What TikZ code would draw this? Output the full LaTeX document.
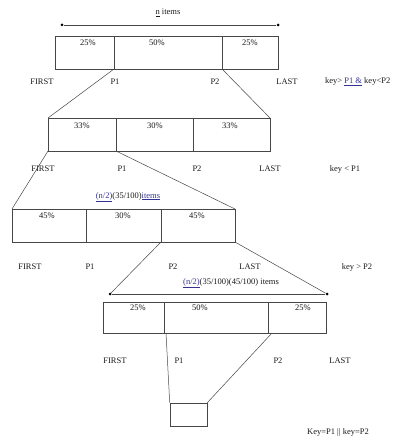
\documentclass[tikz,border=0pt]{standalone}
\usepackage{fontspec}
\setmainfont{Liberation Serif}
\definecolor{lnk}{RGB}{50,50,150}
\definecolor{ln}{RGB}{70,70,70}
\newcommand{\lk}[1]{\textcolor{lnk}{\underline{#1}}}
\begin{document}
\begin{tikzpicture}[x=1pt,y=-1pt,
  txt/.style={inner sep=0pt,font=\fontsize{8.5}{9.5}\selectfont,text=black!90},
  pct/.style={txt,anchor=north},
  bx/.style={draw=ln,line width=0.6pt},
  con/.style={draw=ln,line width=0.5pt},
  dot/.style={circle,fill=black,inner sep=0pt,minimum size=3pt}]
\useasboundingbox (0,0) rectangle (408,446);
% ---------- level 1 ----------
\node[dot] (a1l) at (62,25) {};
\node[dot] (a1r) at (278,25) {};
\draw[con] (a1l) -- (a1r);
\node[txt] (n1) at (168,13) {\underline{n} items};
\draw[bx] (55,36) rectangle (278,69);
\coordinate (b1d1t) at (114,36); \coordinate (b1d1) at (114,69);
\coordinate (b1d2t) at (222,36); \coordinate (b1d2) at (222,69);
\draw[bx] (b1d1t) -- (b1d1) (b1d2t) -- (b1d2);
\node[pct] (p11) at (88,40) {25\%};
\node[pct] (p12) at (157,40) {50\%};
\node[pct] (p13) at (250,40) {25\%};
\node[txt] (f1) at (42,82) {FIRST};
\node[txt] (q11) at (115,82) {P1};
\node[txt] (q12) at (215,82) {P2};
\node[txt] (l1) at (287,82) {LAST};
\node[txt,anchor=west] (k1) at (325,82) {key> \lk{P1 \&} key<P2};
% ---------- level 2 ----------
\draw[bx] (48,118) rectangle (270,151);
\coordinate (b2tl) at (48,118); \coordinate (b2tr) at (270,118);
\coordinate (b2bl) at (48,151);
\coordinate (b2d1t) at (116,118); \coordinate (b2d1) at (116,151);
\coordinate (b2d2t) at (193,118); \coordinate (b2d2) at (193,151);
\draw[bx] (b2d1t) -- (b2d1) (b2d2t) -- (b2d2);
\draw[con] (b1d1) -- (b2tl);
\draw[con] (b1d2) -- (b2tr);
\node[pct] (p21) at (82,123) {33\%};
\node[pct] (p22) at (155,123) {30\%};
\node[pct] (p23) at (230,123) {33\%};
\node[txt] (f2) at (43,169) {FIRST};
\node[txt] (q21) at (122,169) {P1};
\node[txt] (q22) at (197,169) {P2};
\node[txt] (l2) at (270,169) {LAST};
\node[txt] (k2) at (345,169) {key < P1};
% ---------- level 3 ----------
\node[txt] (m3) at (128,197) {\lk{(n/2)}(35/100)\lk{items}};
\draw[bx] (12,209) rectangle (235,242);
\coordinate (b3tl) at (12,209); \coordinate (b3tr) at (235,209);
\coordinate (b3br) at (235,242);
\coordinate (b3d1t) at (86,209); \coordinate (b3d1) at (86,242);
\coordinate (b3d2t) at (161,209); \coordinate (b3d2) at (161,242);
\draw[bx] (b3d1t) -- (b3d1) (b3d2t) -- (b3d2);
\draw[con] (b2bl) -- (b3tl);
\draw[con] (b2d1) -- (b3tr);
\node[pct] (p31) at (47,213) {45\%};
\node[pct] (p32) at (123,213) {30\%};
\node[pct] (p33) at (197,213) {45\%};
\node[txt] (f3) at (30,267) {FIRST};
\node[txt] (q31) at (90,267) {P1};
\node[txt] (q32) at (173,267) {P2};
\node[txt] (l3) at (250,267) {LAST};
\node[txt] (k3) at (357,267) {key > P2};
% ---------- level 4 ----------
\node[txt] (m4) at (231,283) {\lk{(n/2)}(35/100)(45/100) items};
\node[dot] (a4l) at (110,294) {};
\node[dot] (a4r) at (327,294) {};
\draw[con] (a4l) -- (a4r);
\draw[con] (b3d2) -- (a4l);
\draw[con] (b3br) -- (a4r);
\draw[bx] (103,302) rectangle (326,333);
\coordinate (b4d1t) at (164,302); \coordinate (b4d1) at (164,333);
\coordinate (b4d2t) at (268,302); \coordinate (b4d2) at (268,333);
\draw[bx] (b4d1t) -- (b4d1) (b4d2t) -- (b4d2);
\node[pct] (p41) at (138,305) {25\%};
\node[pct] (p42) at (200,305) {50\%};
\node[pct] (p43) at (303,305) {25\%};
\node[txt] (f4) at (115,361) {FIRST};
\node[txt] (q41) at (179,361) {P1};
\node[txt] (q42) at (278,361) {P2};
\node[txt] (l4) at (340,361) {LAST};
% ---------- final ----------
\node[bx,inner sep=0pt,minimum width=37pt,minimum height=23pt] (fin) at (188.5,414.5) {};
\coordinate (c4a) at (166,333); \coordinate (c4b) at (272,333);
\draw[con] (c4a) -- (fin.north west);
\draw[con] (c4b) -- (fin.north east);
\node[txt] (k4) at (338,432) {Key=P1 || key=P2};
\end{tikzpicture}
\end{document}
